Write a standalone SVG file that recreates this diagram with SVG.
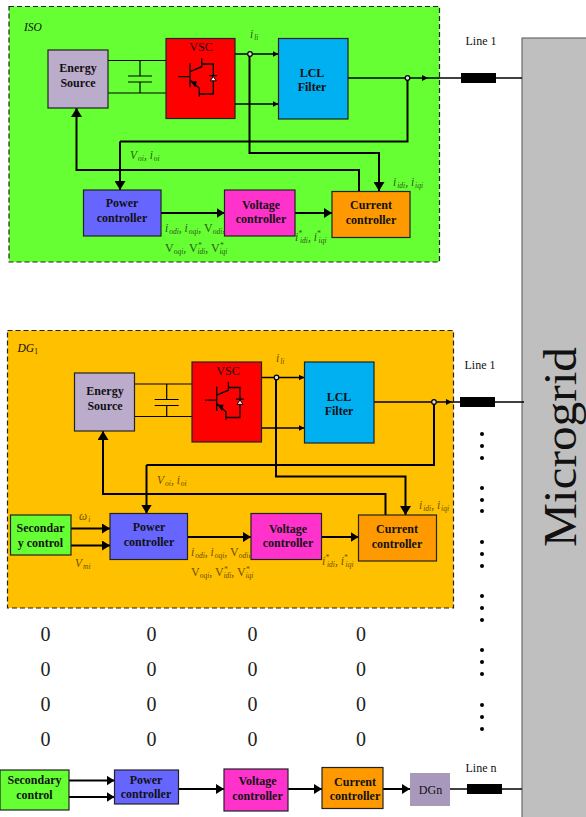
<svg xmlns="http://www.w3.org/2000/svg" width="586" height="817" viewBox="0 0 586 817">
<style>
text{font-family:"Liberation Serif","Times New Roman",serif;fill:#111}
.b{stroke:#222;stroke-width:1.2}
.t{font-weight:bold;font-size:12px;text-anchor:middle}
.r{font-size:12px;text-anchor:middle}
.l{font-style:italic;font-size:11.5px}
.u{font-style:normal}
.g{fill:#2f5a1a}
.o{fill:#6a5000}
.s{font-size:7.5px}
.z{font-size:20px;text-anchor:middle;fill:#222}
.w{fill:none;stroke:#000;stroke-width:2}
.n{fill:none;stroke:#000;stroke-width:1.3}
.h{fill:none;stroke:#000;stroke-width:2;marker-end:url(#big)}
.m{fill:none;stroke:#000;stroke-width:2;marker-end:url(#mid)}
.q{fill:none;stroke:#000;stroke-width:1.3;marker-end:url(#sm)}
.j{fill:#ddd;stroke:#000;stroke-width:1.2}
.d{fill:#000}
.pan{stroke:#222;stroke-width:1.2;stroke-dasharray:5 3}
</style>
<defs>
<marker id="big" markerUnits="userSpaceOnUse" markerWidth="10" markerHeight="11" refX="9" refY="5.5" orient="auto"><path d="M0 0L9 5.5L0 11z"/></marker>
<marker id="mid" markerUnits="userSpaceOnUse" markerWidth="9" markerHeight="10" refX="8" refY="5" orient="auto"><path d="M0 0L8 5L0 10z"/></marker>
<marker id="sm" markerUnits="userSpaceOnUse" markerWidth="7" markerHeight="7" refX="6" refY="3" orient="auto"><path d="M0 0L6 3L0 6z"/></marker>
<g id="igbt" fill="none" stroke="#000" stroke-width="1.3">
<path d="M178.3 76.7H190M190 63.3V87.3M190 71.7L201.7 66.7V58.3M201.7 64H213.3V94H199.3M199.3 88.3V96.7M190 80L199.3 88.3M209.3 75.7H217.3"/>
<path d="M192 82L196 82L195 86z" fill="#000"/>
<path d="M213.3 76.5L216.3 80.8H210.3z" fill="#fff" stroke-width="1"/>
</g>
<g id="cap" fill="none" stroke="#000" stroke-width="1.2">
<path d="M108 60.5H166M108 93H166M140 60.5V76M140 82V93M128 76H152M128 82H152"/>
</g>
</defs>

<rect id="iso-panel" class="pan" x="9" y="6.5" width="430.5" height="255.5" fill="#66ff33"/>
<rect id="dg-panel" class="pan" x="7.5" y="330.5" width="446" height="277.5" fill="#ffc000"/>

<g id="microgrid">
<rect x="522" y="38" width="70" height="785" fill="#bfbfbf" stroke="#555" stroke-width="1"/>
<text transform="translate(576 547) rotate(-90)" font-size="46" textLength="200" lengthAdjust="spacingAndGlyphs">Microgrid</text>
</g>

<g id="connectors">
<use href="#cap"/>
<use href="#cap" x="26.7" y="323.5"/>
<path class="q" d="M235 54H278.5"/>
<path class="q" d="M235 104H278.5"/>
<path class="q" d="M348 78H428"/>
<path class="n" d="M428 78H522"/>
<path class="w" d="M407.5 78V141.5H120"/>
<path class="h" d="M120 141.5V190"/>
<path class="h" d="M249.5 54V153H379V191"/>
<path class="h" d="M359 191V170H76.5V108"/>
<path class="m" d="M161 213H224.5"/>
<path class="m" d="M295 213H332"/>

<path class="q" d="M261.5 377.5H304.5"/>
<path class="q" d="M261.5 428H304.5"/>
<path class="q" d="M374 402H452"/>
<path class="n" d="M452 402H524"/>
<path class="w" d="M434 402V465H146.5"/>
<path class="h" d="M146.5 465V513.5"/>
<path class="h" d="M276 377.5V476.5H405.5V515"/>
<path class="h" d="M385.5 515V494H103V431"/>
<path class="m" d="M187.5 537H251"/>
<path class="m" d="M321.5 537H358.5"/>
<path class="m" d="M71 528.5H110"/>
<path class="m" d="M71 545.5H110"/>

<path class="m" d="M69 780.5H114.5"/>
<path class="m" d="M69 797H114.5"/>
<path class="m" d="M178 789H224"/>
<path class="m" d="M288 789H322"/>
<path class="m" d="M382 789H410"/>
<path class="n" d="M450 789H522"/>

<circle class="j" cx="250" cy="54" r="2.3"/>
<circle class="j" cx="407.5" cy="78" r="2.3"/>
<circle class="j" cx="276.5" cy="377.5" r="2.3"/>
<circle class="j" cx="434" cy="402" r="2.3"/>
</g>

<g id="iso-energy"><rect class="b" x="48" y="50" width="60" height="58" fill="#bcaccc"/><text class="t" x="78" y="72">Energy</text><text class="t" x="78" y="87">Source</text></g>
<g id="iso-vsc"><rect class="b" x="166" y="38.5" width="69" height="80" fill="#ff0000"/><text class="r" x="201" y="51">VSC</text><use href="#igbt"/></g>
<g id="iso-lcl"><rect class="b" x="278.5" y="38.5" width="69.5" height="80.5" fill="#00b0f0"/><text class="t" x="312" y="77">LCL</text><text class="t" x="312" y="91">Filter</text></g>
<g id="iso-power"><rect class="b" x="83.5" y="190" width="77.5" height="46" fill="#6666ff"/><text class="t" x="122" y="207">Power</text><text class="t" x="122" y="222">controller</text></g>
<g id="iso-voltage"><rect class="b" x="224.5" y="190" width="70.5" height="46" fill="#ff33cc"/><text class="t" x="261" y="209">Voltage</text><text class="t" x="261" y="223">controller</text></g>
<g id="iso-current"><rect class="b" x="332" y="191.5" width="78" height="46" fill="#ff9900"/><text class="t" x="371" y="209">Current</text><text class="t" x="371" y="224">controller</text></g>
<g id="iso-line"><rect x="461" y="73" width="35" height="10" fill="#000"/><text class="r" x="481" y="45">Line 1</text></g>

<g id="dg-energy"><rect class="b" x="74.5" y="373" width="60" height="58" fill="#bcaccc"/><text class="t" x="105" y="395">Energy</text><text class="t" x="105" y="410">Source</text></g>
<g id="dg-vsc"><rect class="b" x="192" y="362" width="69.5" height="80" fill="#ff0000"/><text class="r" x="228" y="375">VSC</text><use href="#igbt" x="26.7" y="323.5"/></g>
<g id="dg-lcl"><rect class="b" x="304.5" y="362" width="69.5" height="81" fill="#00b0f0"/><text class="t" x="339" y="401">LCL</text><text class="t" x="339" y="415">Filter</text></g>
<g id="dg-secondary"><rect class="b" x="10.5" y="515" width="60.5" height="40" fill="#66ff33"/><text class="t" x="40.5" y="532">Secondar</text><text class="t" x="40.5" y="547">y control</text></g>
<g id="dg-power"><rect class="b" x="110" y="513.5" width="77.5" height="46" fill="#6666ff"/><text class="t" x="149" y="531">Power</text><text class="t" x="149" y="546">controller</text></g>
<g id="dg-voltage"><rect class="b" x="251" y="513.5" width="70.5" height="46" fill="#ff33cc"/><text class="t" x="288" y="533">Voltage</text><text class="t" x="288" y="547">controller</text></g>
<g id="dg-current"><rect class="b" x="358.5" y="515" width="78" height="46" fill="#ff9900"/><text class="t" x="397" y="533">Current</text><text class="t" x="397" y="548">controller</text></g>
<g id="dg-line"><rect x="460" y="397" width="35" height="10" fill="#000"/><text class="r" x="480" y="369">Line 1</text></g>

<g id="n-secondary"><rect class="b" x="0" y="770" width="69" height="40" fill="#66ff33"/><text class="t" x="34.5" y="784">Secondary</text><text class="t" x="34.5" y="799">control</text></g>
<g id="n-power"><rect class="b" x="114.5" y="770" width="64" height="34" fill="#6666ff"/><text class="t" x="146" y="784">Power</text><text class="t" x="146" y="798">controller</text></g>
<g id="n-voltage"><rect class="b" x="224" y="769" width="64" height="42" fill="#ff33cc"/><text class="t" x="257.5" y="785">Voltage</text><text class="t" x="257.5" y="800">controller</text></g>
<g id="n-current"><rect class="b" x="322" y="767.5" width="61" height="41" fill="#ff9900"/><text class="t" x="355" y="786">Current</text><text class="t" x="355" y="800">controller</text></g>
<g id="n-dgn"><rect x="410" y="773" width="40" height="33" fill="#a898bc"/><text class="r" x="430.5" y="794">DGn</text></g>
<g id="n-line"><rect x="467" y="784" width="35" height="10" fill="#000"/><text class="r" x="481" y="772">Line n</text></g>

<g id="iso-labels">
<text class="l" x="24" y="31" fill="#111">ISO</text>
<text class="l g" x="250" y="38">i<tspan class="s" dx="1" dy="2">li</tspan></text>
<text class="l g" x="130" y="159">V<tspan class="s" dx="1" dy="2">oi</tspan><tspan dy="-2">, i</tspan><tspan class="s" dx="1" dy="2">oi</tspan></text>
<text class="l g" x="165" y="232">i<tspan class="s" dx="1" dy="2">odi</tspan><tspan dy="-2">, i</tspan><tspan class="s" dx="1" dy="2">oqi</tspan><tspan dy="-2">, </tspan><tspan class="u" font-size="12">V</tspan><tspan class="s" dy="2">odi</tspan><tspan dy="-2">,</tspan></text>
<text class="l g" x="165" y="252"><tspan class="u" font-size="12">V</tspan><tspan class="s" dy="2">oqi</tspan><tspan dy="-2">, </tspan><tspan class="u" font-size="12">V</tspan><tspan class="s" dy="-4">*</tspan><tspan class="s" dx="-4" dy="6">idi</tspan><tspan dy="-2">, </tspan><tspan class="u" font-size="12">V</tspan><tspan class="s" dy="-4">*</tspan><tspan class="s" dx="-4" dy="6">iqi</tspan></text>
<text class="l g" x="393" y="186">i<tspan class="s" dx="1" dy="2">idi</tspan><tspan dy="-2">, i</tspan><tspan class="s" dx="1" dy="2">iqi</tspan></text>
<text class="l g" x="295" y="241">i<tspan class="s" dy="-5">*</tspan><tspan class="s" dx="-2" dy="7">idi</tspan><tspan dy="-2">, i</tspan><tspan class="s" dy="-5">*</tspan><tspan class="s" dx="-2" dy="7">iqi</tspan></text>
</g>

<g id="dg-labels">
<text class="l" x="17.5" y="352" fill="#111">DG<tspan class="s u" dy="2">1</tspan></text>
<text class="l o" x="276" y="362">i<tspan class="s" dx="1" dy="2">li</tspan></text>
<text class="l o" x="157" y="484">V<tspan class="s" dx="1" dy="2">oi</tspan><tspan dy="-2">, i</tspan><tspan class="s" dx="1" dy="2">oi</tspan></text>
<text class="l o" x="191" y="556">i<tspan class="s" dx="1" dy="2">odi</tspan><tspan dy="-2">, i</tspan><tspan class="s" dx="1" dy="2">oqi</tspan><tspan dy="-2">, </tspan><tspan class="u" font-size="12">V</tspan><tspan class="s" dy="2">odi</tspan><tspan dy="-2">,</tspan></text>
<text class="l o" x="191" y="576"><tspan class="u" font-size="12">V</tspan><tspan class="s" dy="2">oqi</tspan><tspan dy="-2">, </tspan><tspan class="u" font-size="12">V</tspan><tspan class="s" dy="-4">*</tspan><tspan class="s" dx="-4" dy="6">idi</tspan><tspan dy="-2">, </tspan><tspan class="u" font-size="12">V</tspan><tspan class="s" dy="-4">*</tspan><tspan class="s" dx="-4" dy="6">iqi</tspan></text>
<text class="l o" x="419" y="509">i<tspan class="s" dx="1" dy="2">idi</tspan><tspan dy="-2">, i</tspan><tspan class="s" dx="1" dy="2">iqi</tspan></text>
<text class="l o" x="322" y="565">i<tspan class="s" dy="-5">*</tspan><tspan class="s" dx="-2" dy="7">idi</tspan><tspan dy="-2">, i</tspan><tspan class="s" dy="-5">*</tspan><tspan class="s" dx="-2" dy="7">iqi</tspan></text>
<text class="l o" x="79" y="520">ω<tspan class="s" dx="1" dy="2">i</tspan></text>
<text class="l o" x="75" y="567">V<tspan class="s" dx="1" dy="2">mi</tspan></text>
</g>

<g id="zeros">
<text class="z" x="45.5" y="641">0</text><text class="z" x="151.5" y="641">0</text><text class="z" x="252.5" y="641">0</text><text class="z" x="361" y="641">0</text>
<text class="z" x="45.5" y="676">0</text><text class="z" x="151.5" y="676">0</text><text class="z" x="252.5" y="676">0</text><text class="z" x="361" y="676">0</text>
<text class="z" x="45.5" y="711">0</text><text class="z" x="151.5" y="711">0</text><text class="z" x="252.5" y="711">0</text><text class="z" x="361" y="711">0</text>
<text class="z" x="45.5" y="746">0</text><text class="z" x="151.5" y="746">0</text><text class="z" x="252.5" y="746">0</text><text class="z" x="361" y="746">0</text>
</g>

<g id="dots" class="d">
<circle cx="482" cy="434" r="2"/><circle cx="482" cy="446" r="2"/><circle cx="482" cy="458" r="2"/>
<circle cx="482" cy="488" r="2"/><circle cx="482" cy="500" r="2"/><circle cx="482" cy="511" r="2"/>
<circle cx="482" cy="542" r="2"/><circle cx="482" cy="554" r="2"/><circle cx="482" cy="566" r="2"/>
<circle cx="482" cy="596" r="2"/><circle cx="482" cy="608" r="2"/><circle cx="482" cy="620" r="2"/>
<circle cx="482" cy="650" r="2"/><circle cx="482" cy="662" r="2"/><circle cx="482" cy="674" r="2"/>
<circle cx="482" cy="705" r="2"/><circle cx="482" cy="717" r="2"/><circle cx="482" cy="729" r="2"/>
</g>
</svg>
